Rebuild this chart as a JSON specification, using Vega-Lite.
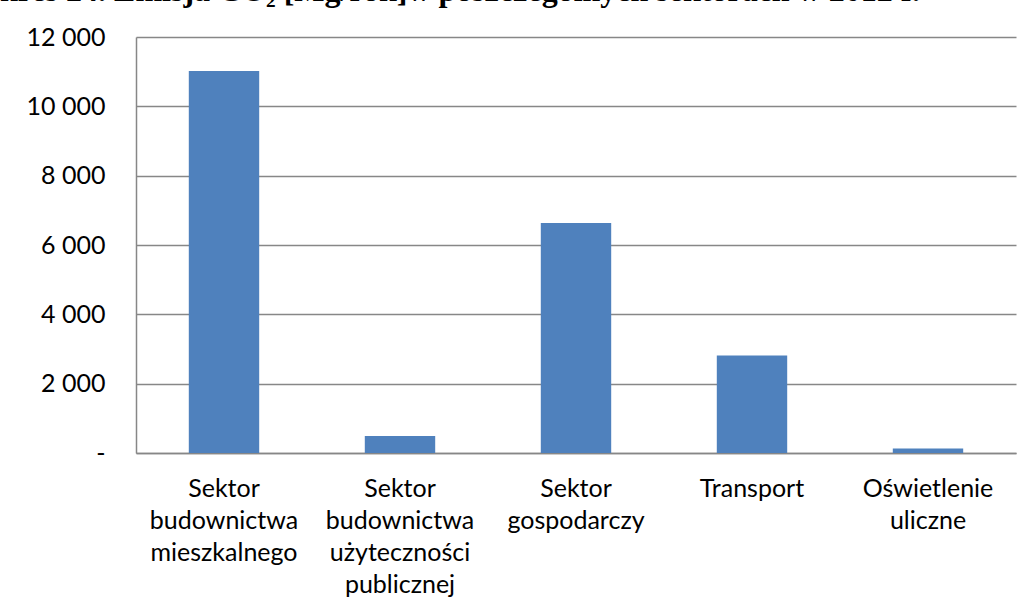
{
  "$schema": "https://vega.github.io/schema/vega-lite/v6.json",
  "width": 880,
  "height": 416,
  "autosize": {"type": "none"},
  "padding": {"left": 136, "top": 37, "right": 16, "bottom": 158},
  "background": "white",
  "title": {
    "text": "Wykres 24. Emisja CO₂ [Mg/rok]w poszczególnych sektorach w 2012 r.",
    "anchor": "end",
    "frame": "group",
    "dx": -96,
    "dy": 25,
    "offset": 17,
    "limit": 3000,
    "baseline": "alphabetic",
    "font": "Liberation Serif",
    "fontSize": 32,
    "fontWeight": "bold",
    "color": "black"
  },
  "config": {
    "locale": {"number": {"decimal": ",", "thousands": " ", "grouping": [3], "currency": ["", " zł"]}},
    "view": {"stroke": null},
    "axis": {"labelFont": "Lato", "labelColor": "black", "labelFontSize": 25}
  },
  "data": {
    "values": [
      {"sektor": "Sektor budownictwa mieszkalnego", "emisja": 11020},
      {"sektor": "Sektor budownictwa użyteczności publicznej", "emisja": 490},
      {"sektor": "Sektor gospodarczy", "emisja": 6635},
      {"sektor": "Transport", "emisja": 2815},
      {"sektor": "Oświetlenie uliczne", "emisja": 127}
    ]
  },
  "mark": {"type": "bar", "color": "#4F81BD"},
  "encoding": {
    "x": {
      "field": "sektor",
      "type": "nominal",
      "sort": null,
      "title": null,
      "scale": {"paddingInner": 0.6, "paddingOuter": 0.3},
      "axis": {
        "labelAngle": 0,
        "labelExpr": "split(datum.label, ' ')",
        "labelLineHeight": 32,
        "labelPadding": 23,
        "labelLimit": 300,
        "ticks": false,
        "domainColor": "#878787",
        "domainWidth": 1.5
      }
    },
    "y": {
      "field": "emisja",
      "type": "quantitative",
      "title": null,
      "scale": {"domain": [0, 12000], "nice": false},
      "axis": {
        "values": [0, 2000, 4000, 6000, 8000, 10000, 12000],
        "format": ",d",
        "labelExpr": "datum.value == 0 ? '-' : datum.label",
        "labelPadding": 31,
        "ticks": false,
        "grid": true,
        "gridColor": "#878787",
        "gridWidth": 1.5,
        "domainColor": "#878787",
        "domainWidth": 1.5
      }
    }
  }
}
